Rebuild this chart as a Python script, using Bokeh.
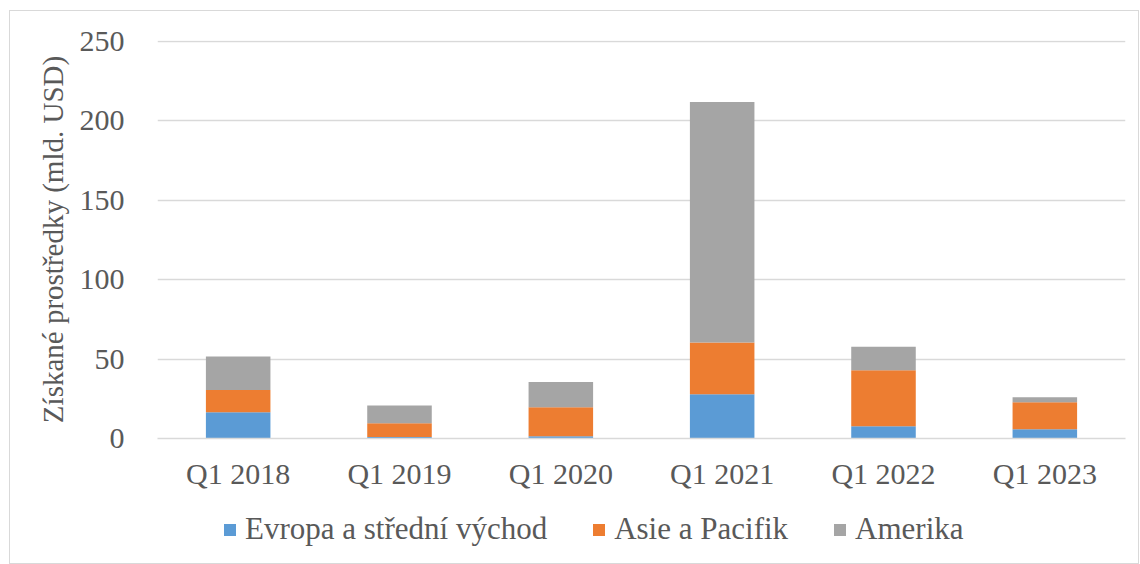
from bokeh.plotting import figure
from bokeh.layouts import column
from bokeh.models import FactorRange, Range1d, FixedTicker, Legend, LegendItem
from bokeh.embed import file_html
from bokeh.resources import INLINE

categories = ["Q1 2018", "Q1 2019", "Q1 2020", "Q1 2021", "Q1 2022", "Q1 2023"]
evropa = [16.5, 1.0, 1.4, 27.8, 7.7, 5.8]
asie = [14.0, 8.6, 18.2, 32.7, 35.2, 17.0]
amerika = [21.2, 11.1, 15.9, 151.3, 14.8, 3.1]
series_names = ["Evropa a střední východ", "Asie a Pacifik", "Amerika"]
y_ticks = [0, 50, 100, 150, 200, 250]

colors = ["#5b9bd5", "#ed7d31", "#a5a5a5"]
FONT = "Liberation Serif"
TXT = "#595959"
FS = "30px"

data = dict(cat=categories, evropa=evropa, asie=asie, amerika=amerika)
cols = ["evropa", "asie", "amerika"]

p = figure(x_range=FactorRange(*categories), y_range=Range1d(0, 250.6),
           width=1128, height=490, output_backend="svg", toolbar_location=None,
           min_border_left=147, min_border_right=13, min_border_top=29, min_border_bottom=63)

rs = p.vbar_stack(cols, x="cat", width=0.4, color=colors, line_color=None, source=data)

p.outline_line_color = None
p.background_fill_color = "white"
p.border_fill_color = "white"

p.xgrid.grid_line_color = None
p.ygrid.grid_line_color = "#d9d9d9"
p.ygrid.grid_line_width = 1.5

p.yaxis.ticker = FixedTicker(ticks=y_ticks)
p.yaxis.axis_line_color = None
p.yaxis.major_tick_line_color = None
p.yaxis.minor_tick_line_color = None
p.yaxis.major_label_standoff = 27
p.yaxis.major_label_text_font = FONT
p.yaxis.major_label_text_font_size = FS
p.yaxis.major_label_text_color = TXT
p.yaxis.axis_label = "Získané prostředky (mld. USD)"
p.yaxis.axis_label_text_font = FONT
p.yaxis.axis_label_text_font_size = "29px"
p.yaxis.axis_label_text_font_style = "normal"
p.yaxis.axis_label_text_color = TXT
p.yaxis.axis_label_standoff = 8

p.xaxis.axis_line_color = "#d9d9d9"
p.xaxis.axis_line_width = 1.5
p.xaxis.major_tick_line_color = None
p.xaxis.minor_tick_line_color = None
p.xaxis.major_label_standoff = 12
p.xaxis.major_label_text_font = FONT
p.xaxis.major_label_text_font_size = FS
p.xaxis.major_label_text_color = TXT

# legend strip (separate figure below the chart); its renderers are hidden copies
lg = figure(width=1128, height=62, output_backend="svg", toolbar_location=None,
            x_range=FactorRange(*categories), y_range=Range1d(0, 1),
            min_border_left=24, min_border_right=0, min_border_top=0, min_border_bottom=0)
lg.axis.visible = False
lg.grid.visible = False
lg.outline_line_color = None
lg.border_fill_color = "white"
lr = lg.vbar_stack(cols, x="cat", width=0.4, color=colors, line_color=None, source=data)
for r in lr:
    r.visible = False

legend = Legend(items=[LegendItem(label=n, renderers=[r]) for n, r in zip(series_names, lr)],
                orientation="horizontal", location=(65, 16),
                label_text_font=FONT, label_text_font_size="31px", label_text_color=TXT,
                glyph_width=15, glyph_height=15, label_standoff=8, spacing=44,
                padding=0, margin=0, border_line_color=None, background_fill_alpha=0,
                inactive_fill_alpha=0, click_policy="none")
lg.add_layout(legend, "center")

layout = column(p, lg, spacing=0,
                styles={"border": "1px solid #d9d9d9", "margin-left": "9px", "margin-top": "10px"})

open("out.html", "w").write(file_html(layout, INLINE))
